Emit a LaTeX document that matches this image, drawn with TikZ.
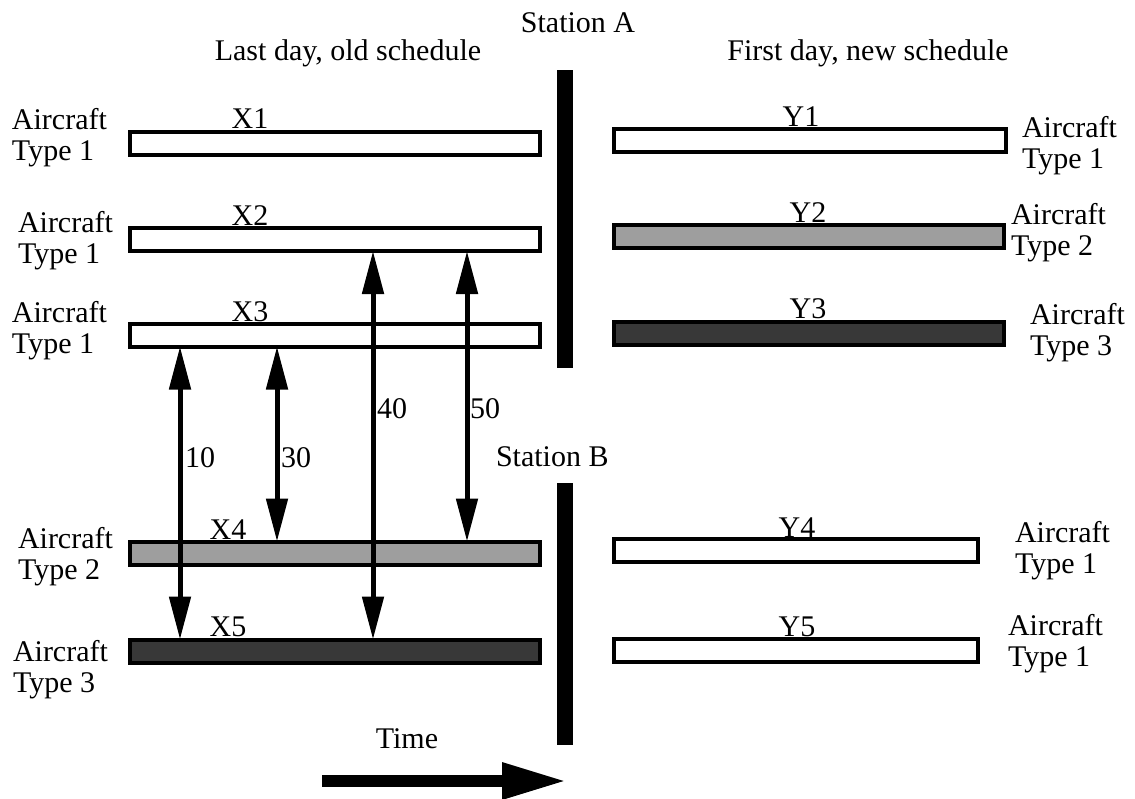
\documentclass[tikz,border=0pt]{standalone}
\usepackage{fontspec}
\setmainfont{Liberation Serif}
\usetikzlibrary{arrows.meta}
\begin{document}
\begin{tikzpicture}[x=1pt,y=-1pt,
  every node/.style={inner sep=0pt, outer sep=0pt},
  txt/.style={font=\fontsize{30}{31}\selectfont},
  lab/.style={txt, align=left, anchor=base west},
  bar/.style={draw, line width=4pt, rectangle, minimum height=23pt},
  barW/.style={bar, fill=white},
  barL/.style={bar, fill=black!38},
  barD/.style={bar, fill=black!78},
  stbar/.style={fill=black, rectangle, minimum width=16pt, anchor=north west},
  dbl/.style={line width=5pt, {Triangle[width=21pt,length=43pt]}-{Triangle[width=21pt,length=43pt]}},
  timearrow/.style={line width=12pt, -{Triangle[width=34pt,length=65pt]}},
]
\useasboundingbox (0,0) rectangle (1135,798);

% headings
\node[txt, anchor=base] (hA) at (578,32) {Station A};
\node[txt, anchor=base] (hL) at (348,60) {Last day, old schedule};
\node[txt, anchor=base] (hR) at (868,60) {First day, new schedule};
\node[txt, anchor=base west] (hB) at (496,466) {Station B};

% station bars
\node[stbar, minimum height=298pt] (sA) at (557,70) {};
\node[stbar, minimum height=262pt] (sB) at (557,483) {};

% left bars
\node[barW, minimum width=410pt] (X1) at (335,143) {};
\node[barW, minimum width=410pt] (X2) at (335,239.5) {};
\node[barW, minimum width=410pt] (X3) at (335,335) {};
\node[barL, minimum width=410pt] (X4) at (335,553) {};
\node[barD, minimum width=410pt] (X5) at (335,651) {};

% right bars
\node[barW, minimum width=392pt] (Y1) at (810,140.5) {};
\node[barL, minimum width=390pt] (Y2) at (809,236.5) {};
\node[barD, minimum width=390pt] (Y3) at (809,333) {};
\node[barW, minimum width=364pt] (Y4) at (796,550.5) {};
\node[barW, minimum width=364pt] (Y5) at (796,650) {};

% bar labels
\node[txt, anchor=base] (lX1) at (250,128) {X1};
\node[txt, anchor=base] (lX2) at (250,225) {X2};
\node[txt, anchor=base] (lX3) at (250,321) {X3};
\node[txt, anchor=base] (lX4) at (228,539) {X4};
\node[txt, anchor=base] (lX5) at (228,636) {X5};
\node[txt, anchor=base] (lY1) at (801,126) {Y1};
\node[txt, anchor=base] (lY2) at (808,222) {Y2};
\node[txt, anchor=base] (lY3) at (808,318) {Y3};
\node[txt, anchor=base] (lY4) at (797,537) {Y4};
\node[txt, anchor=base] (lY5) at (797,636) {Y5};

% aircraft type labels (anchor = baseline of second line)
\node[lab] (L1) at (12,160) {Aircraft\\Type 1};
\node[lab] (L2) at (18,263) {Aircraft\\Type 1};
\node[lab] (L3) at (12,353) {Aircraft\\Type 1};
\node[lab] (L4) at (18,579) {Aircraft\\Type 2};
\node[lab] (L5) at (13,692) {Aircraft\\Type 3};
\node[lab] (R1) at (1022,168) {Aircraft\\Type 1};
\node[lab] (R2) at (1011,255) {Aircraft\\Type 2};
\node[lab] (R3) at (1030,355) {Aircraft\\Type 3};
\node[lab] (R4) at (1015,573) {Aircraft\\Type 1};
\node[lab] (R5) at (1008,666) {Aircraft\\Type 1};

% arrows
\coordinate (c10) at (180,0);
\coordinate (c30) at (277,0);
\coordinate (c40) at (373,0);
\coordinate (c50) at (467,0);
\draw[dbl] (X3.south -| c10) -- (X5.north -| c10);
\draw[dbl] (X3.south -| c30) -- (X4.north -| c30);
\draw[dbl] (X2.south -| c40) -- (X5.north -| c40);
\draw[dbl] (X2.south -| c50) -- (X4.north -| c50);
\node[txt, anchor=base west] (n10) at (185,467) {10};
\node[txt, anchor=base west] (n30) at (281,467) {30};
\node[txt, anchor=base west] (n40) at (377,418) {40};
\node[txt, anchor=base west] (n50) at (470,418) {50};

% time arrow
\node[txt, anchor=base] (hT) at (407,748) {Time};
\coordinate (ts) at (322,781);
\coordinate (te) at (567,781);
\draw[timearrow] (ts) -- (te);
\end{tikzpicture}
\end{document}
